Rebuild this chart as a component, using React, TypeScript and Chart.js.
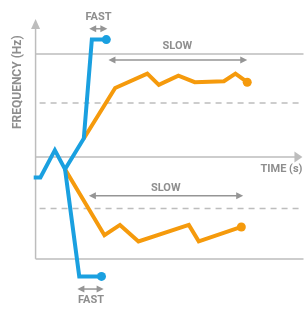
import React, { useEffect, useRef } from "react";
import { Chart, registerables } from "chart.js";

Chart.register(...registerables);

// Time (x) and frequency (y) in arbitrary units
const blueRiseX = [-0.7, 1.8, 7.2, 11, 18, 21, 26.4];
const blueRiseY = [-20, -20, 6.6, -12, 18, 114, 114];
const blueDropX = [11, 16.3, 24.6];
const blueDropY = [-12, -116, -116];
const orangeRiseX = [18, 29.7, 41.7, 46, 53.3, 59.4, 70.3, 74.6, 79];
const orangeRiseY = [18, 67, 81, 70, 79, 72.6, 73.6, 81, 72.6];
const orangeDropX = [11, 25.7, 31.5, 38.4, 57.2, 60.9, 76.8];
const orangeDropY = [-12, -76, -66, -82, -66, -82, -68];

const solidLevels = [100, -99];
const dashedLevels = [52.5, -50];

const BLUE = "#1aa0e0";
const ORANGE = "#f59a0c";
const GRID = "#bdbdbd";
const ARROW = "#959595";
const TEXT = "#8e8e8e";

const spans = [
  { label: "FAST", x0: 20, x1: 26.8, y: 124.5, tx: 23.5, ty: 135.8 },
  { label: "SLOW", x0: 27.2, x1: 79, y: 94.3, tx: 52.9, ty: 107.5 },
  { label: "SLOW", x0: 19.9, x1: 77.5, y: -37.7, tx: 48.6, ty: -30.2 },
  { label: "FAST", x0: 15.6, x1: 25.4, y: -128.3, tx: 20.7, ty: -139.6 },
];

const toPts = (xs: number[], ys: number[]) => xs.map((x, i) => ({ x, y: ys[i] }));

const lastDot = (n: number) => (ctx: any) => (ctx.dataIndex === n - 1 ? 4.5 : 0);

const diagramPlugin = {
  id: "diagram",
  beforeDatasetsDraw(chart: any) {
    const { ctx, scales } = chart;
    const xs = scales.x;
    const ys = scales.y;
    const px = (v: number) => xs.getPixelForValue(v);
    const py = (v: number) => ys.getPixelForValue(v);
    ctx.save();
    ctx.strokeStyle = GRID;
    ctx.lineWidth = 1.5;
    solidLevels.forEach((lv) => {
      ctx.beginPath();
      ctx.moveTo(px(0), py(lv));
      ctx.lineTo(px(100), py(lv));
      ctx.stroke();
    });
    ctx.setLineDash([6, 5]);
    dashedLevels.forEach((lv) => {
      ctx.beginPath();
      ctx.moveTo(px(0) + 4, py(lv));
      ctx.lineTo(px(100), py(lv));
      ctx.stroke();
    });
    ctx.setLineDash([]);
    // time axis
    ctx.beginPath();
    ctx.moveTo(px(0), py(0));
    ctx.lineTo(px(99.6) - 6, py(0));
    ctx.stroke();
    ctx.fillStyle = GRID;
    ctx.beginPath();
    ctx.moveTo(px(99.6), py(0));
    ctx.lineTo(px(99.6) - 8, py(0) - 5.5);
    ctx.lineTo(px(99.6) - 8, py(0) + 5.5);
    ctx.closePath();
    ctx.fill();
    // frequency axis
    ctx.beginPath();
    ctx.moveTo(px(0), py(-99));
    ctx.lineTo(px(0), py(134) + 8);
    ctx.stroke();
    ctx.beginPath();
    ctx.moveTo(px(0), py(134));
    ctx.lineTo(px(0) - 4.5, py(134) + 10);
    ctx.lineTo(px(0) + 4.5, py(134) + 10);
    ctx.closePath();
    ctx.fill();
    ctx.restore();
  },
  afterDatasetsDraw(chart: any) {
    const { ctx, scales } = chart;
    const xs = scales.x;
    const ys = scales.y;
    const px = (v: number) => xs.getPixelForValue(v);
    const py = (v: number) => ys.getPixelForValue(v);
    ctx.save();
    ctx.strokeStyle = ARROW;
    ctx.fillStyle = ARROW;
    ctx.lineWidth = 1.5;
    const head = (x: number, y: number, dir: number) => {
      ctx.beginPath();
      ctx.moveTo(x, y);
      ctx.lineTo(x - dir * 7, y - 3.5);
      ctx.lineTo(x - dir * 7, y + 3.5);
      ctx.closePath();
      ctx.fill();
    };
    spans.forEach((s) => {
      const a = px(s.x0);
      const b = px(s.x1);
      const y = py(s.y);
      ctx.beginPath();
      ctx.moveTo(a + 4, y);
      ctx.lineTo(b - 4, y);
      ctx.stroke();
      head(a, y, -1);
      head(b, y, 1);
    });
    ctx.fillStyle = TEXT;
    ctx.font = "bold 11px Roboto";
    ctx.textAlign = "center";
    ctx.textBaseline = "middle";
    spans.forEach((s) => {
      ctx.fillText(s.label, px(s.tx), py(s.ty));
    });
    ctx.textAlign = "right";
    ctx.fillText("TIME (s)", px(99.6), py(-12.3));
    ctx.translate(px(-6.5), py(72.6));
    ctx.rotate(-Math.PI / 2);
    ctx.textAlign = "center";
    ctx.font = "bold 12px Roboto";
    ctx.fillText("FREQUENCY (Hz)", 0, 0);
    ctx.restore();
  },
};

export default function App() {
  const ref = useRef<HTMLCanvasElement>(null);
  useEffect(() => {
    document.body.style.margin = "0";
    const line = (data: any[], color: string, order: number) => ({
      data,
      borderColor: color,
      backgroundColor: color,
      borderWidth: 4,
      borderJoinStyle: "miter" as const,
      borderCapStyle: "butt" as const,
      pointRadius: lastDot(data.length),
      pointHoverRadius: 0,
      pointBorderWidth: 0,
      tension: 0,
      fill: false,
      order,
    });
    const chart = new Chart(ref.current!, {
      type: "line",
      data: {
        datasets: [
          line(toPts(blueRiseX, blueRiseY), BLUE, 0),
          line(toPts(blueDropX, blueDropY), BLUE, 1),
          line(toPts(orangeRiseX, orangeRiseY), ORANGE, 2),
          line(toPts(orangeDropX, orangeDropY), ORANGE, 3),
        ],
      },
      options: {
        animation: false,
        responsive: false,
        layout: { padding: 0 },
        plugins: { legend: { display: false }, tooltip: { enabled: false } },
        events: [],
        scales: {
          x: { type: "linear", min: -11.6, max: 100, display: false },
          y: { type: "linear", min: -147.2, max: 148.1, display: false },
        },
      },
      plugins: [diagramPlugin],
    });
    return () => chart.destroy();
  }, []);
  return (
    <div style={{ position: "absolute", left: 0, top: 0, width: 308, height: 313 }}>
      <canvas ref={ref} width={308} height={313} style={{ width: 308, height: 313 }} />
    </div>
  );
}
